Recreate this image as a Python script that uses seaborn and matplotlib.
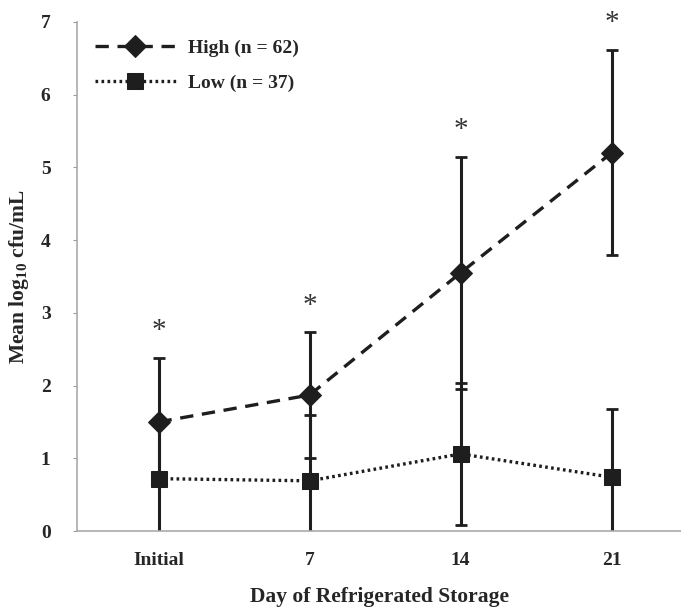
import matplotlib
matplotlib.use("Agg")
import matplotlib.pyplot as plt
import seaborn as sns
import pandas as pd
import numpy as np

days = ["Initial", "7", "14", "21"]
high_mean = [1.50, 1.87, 3.55, 5.20]
high_sd = [0.88, 0.86, 1.60, 1.41]
low_mean = [0.72, 0.69, 1.06, 0.74]
low_sd = [0.80, 0.91, 0.98, 0.94]
signif = ["*", "*", "*", "*"]
series_labels = ["High (n = 62)", "Low (n = 37)"]

sns.set_theme(style="white")
plt.rcParams["font.family"] = ["Liberation Serif", "DejaVu Serif"]
plt.rcParams["font.weight"] = "bold"
plt.rcParams["mathtext.fontset"] = "custom"
plt.rcParams["mathtext.rm"] = "Liberation Serif:bold"
plt.rcParams["mathtext.bf"] = "Liberation Serif:bold"

df = pd.DataFrame({
    "day": days * 2,
    "value": high_mean + low_mean,
    "group": [series_labels[0]] * 4 + [series_labels[1]] * 4,
})

fig = plt.figure(figsize=(6.81, 6.07), dpi=100)
ax = fig.add_axes([77 / 681, 76 / 607, 1 - 77 / 681, 509 / 607])

line_color = "#1e1e1e"
x_pos = np.arange(len(days))
ax.errorbar(x_pos, high_mean, yerr=high_sd, fmt="none", ecolor=line_color,
            elinewidth=2.2, capsize=4, capthick=2, zorder=2)
ax.errorbar(x_pos, low_mean, yerr=low_sd, fmt="none", ecolor=line_color,
            elinewidth=2.2, capsize=4, capthick=2, zorder=2)

sns.lineplot(data=df, x="day", y="value", hue="group", style="group",
             palette=[line_color, line_color],
             dashes={series_labels[0]: (4, 2.6), series_labels[1]: (0.8, 1.0)},
             markers={series_labels[0]: "D", series_labels[1]: "s"},
             markersize=11, linewidth=2.4, markeredgecolor=line_color,
             ax=ax, zorder=3, sort=False)

for i, s in enumerate(signif):
    ax.text(i, high_mean[i] + high_sd[i] + 0.37, s, ha="center", va="center",
            fontsize=21, fontweight="normal", color="#333333")

ax.set_ylim(0, 7)
ax.set_xlim(-0.54, 3.46)
ax.set_yticks(range(0, 8))
ax.set_yticklabels([str(v) for v in range(0, 8)], fontsize=14, fontweight="bold")
ax.set_xticks(x_pos)
ax.set_xticklabels(days, fontsize=14, fontweight="bold")
ax.tick_params(axis="y", which="major", direction="out", length=3, width=0.8,
               color="#999999", pad=16, left=True)
ax.tick_params(axis="x", length=0, pad=15)

for sp in ["top", "right"]:
    ax.spines[sp].set_visible(False)
for sp in ["left", "bottom"]:
    ax.spines[sp].set_color("#aaaaaa")
    ax.spines[sp].set_linewidth(1.2)

ax.set_xlabel("Day of Refrigerated Storage", fontsize=15.5, fontweight="bold",
              labelpad=13)
ax.set_ylabel(r"Mean log$_{10}$ cfu/mL", fontsize=15.5, fontweight="bold",
              labelpad=7)

handles, labels = ax.get_legend_handles_labels()
ax.legend(handles=handles, labels=labels, loc="upper left",
          bbox_to_anchor=(0.0, 1.0), frameon=False,
          handlelength=4.2, handletextpad=0.6, labelspacing=0.9,
          prop={"weight": "bold", "size": 14})

fig.savefig("out.png", dpi=100)
